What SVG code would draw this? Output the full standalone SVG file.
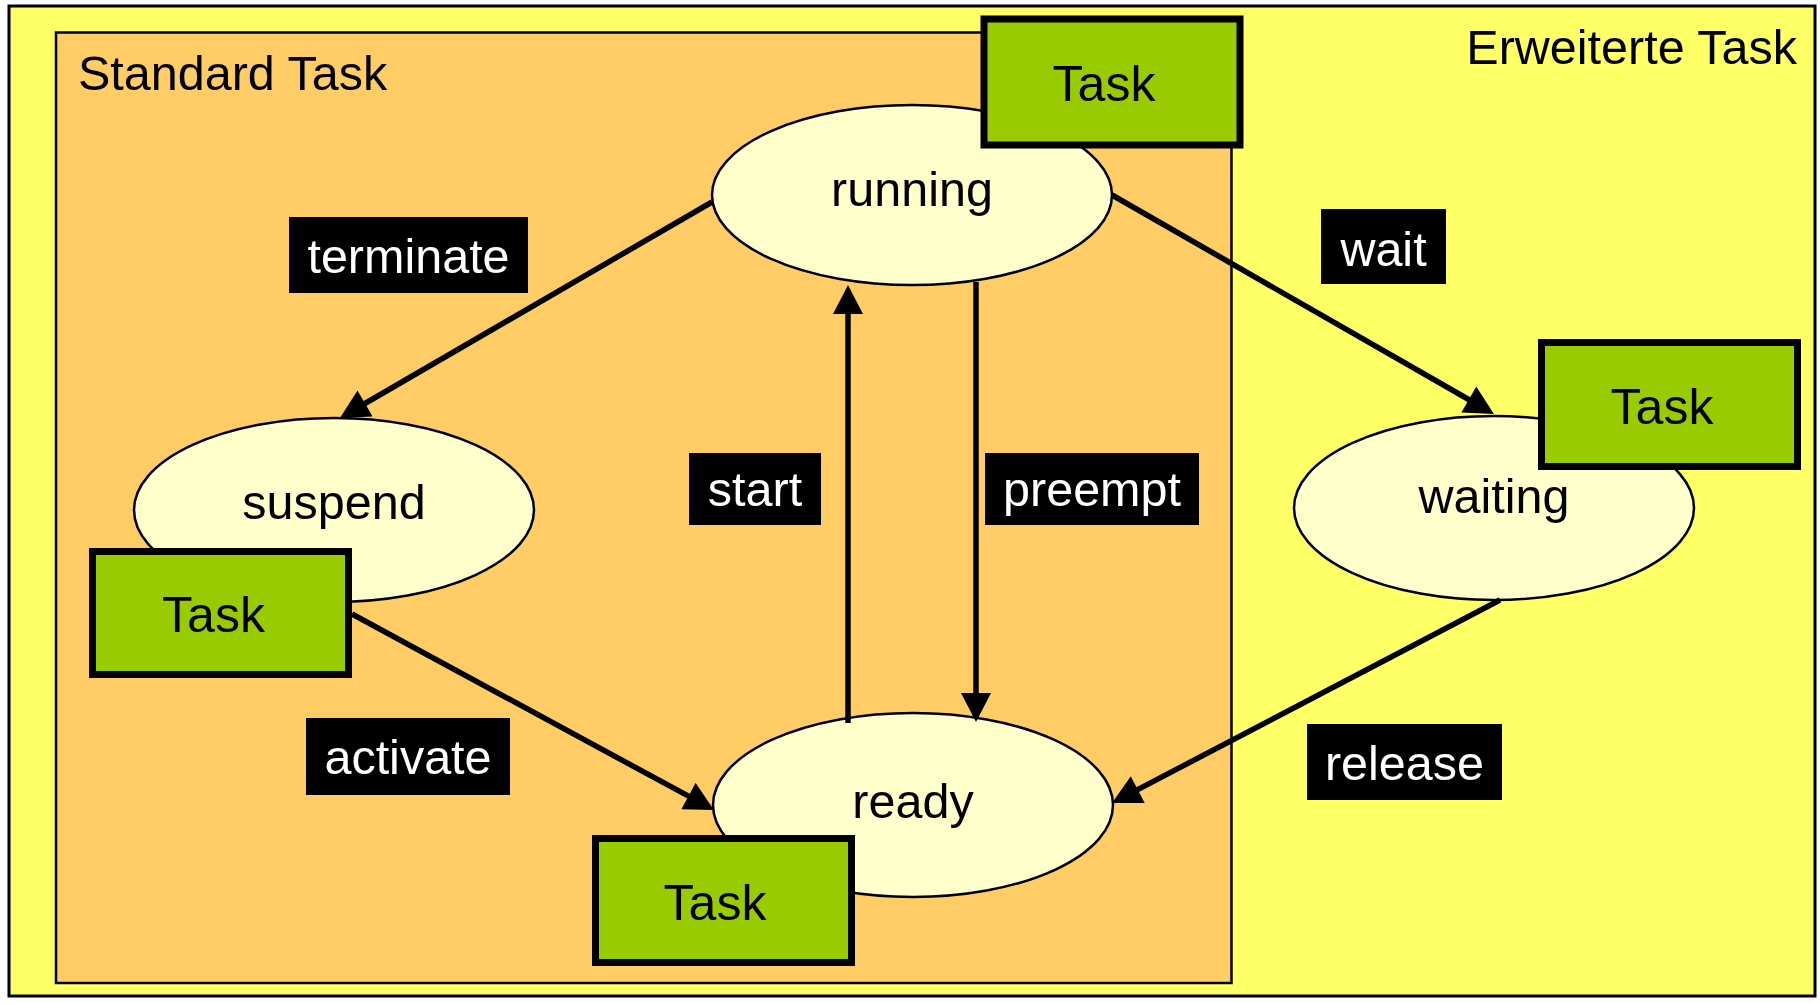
<svg xmlns="http://www.w3.org/2000/svg" width="1820" height="1003" viewBox="0 0 1820 1003">
<defs>
<style>
text{font-family:"Liberation Sans",Arial,sans-serif;font-size:48.5px;}
.title{fill:#000;}
.state{fill:#FFFFCC;stroke:#000;stroke-width:2.5;}
.st{fill:#000;text-anchor:middle;}
.tk{font-size:50px;}
.task{fill:#99CC00;stroke:#000;stroke-width:7;}
.lbl{fill:#000;}
.lt{fill:#fff;text-anchor:middle;}
.conn{stroke:#000;stroke-width:5.5;fill:none;marker-end:url(#ah);}
</style>
<marker id="ah" markerUnits="userSpaceOnUse" markerWidth="30" markerHeight="30" viewBox="0 0 29 30" refX="19" refY="15" orient="auto">
<path d="M0,0 L29,15 L0,30 z" fill="#000"/>
</marker>
</defs>
<g id="erweiterte">
<rect x="9" y="6" width="1806" height="990" fill="#FFFF66" stroke="#000" stroke-width="3"/>
<text class="title" x="1797" y="64" text-anchor="end">Erweiterte Task</text>
</g>
<g id="standard">
<rect x="56" y="32.5" width="1175.5" height="950.5" fill="#FFCC66" stroke="#000" stroke-width="2.5"/>
<text class="title" x="78" y="90">Standard Task</text>
</g>
<g id="running">
<ellipse class="state" cx="912" cy="195" rx="200" ry="90"/>
<text class="st" x="912" y="206">running</text>
</g>
<g id="suspend">
<ellipse class="state" cx="334" cy="510" rx="200" ry="92"/>
<text class="st" x="334" y="519">suspend</text>
</g>
<g id="waiting">
<ellipse class="state" cx="1494" cy="508" rx="200" ry="92"/>
<text class="st" x="1494" y="513">waiting</text>
</g>
<g id="ready">
<ellipse class="state" cx="913" cy="805" rx="200" ry="92"/>
<text class="st" x="913" y="818">ready</text>
</g>
<g id="connectors">
<line class="conn" x1="712" y1="202" x2="348.6" y2="413"/>
<line class="conn" x1="1112" y1="195" x2="1485.3" y2="409"/>
<line class="conn" x1="848" y1="723" x2="848" y2="295"/>
<line class="conn" x1="976" y1="282" x2="976" y2="712"/>
<line class="conn" x1="352" y1="614" x2="705.2" y2="805.2"/>
<line class="conn" x1="1500" y1="600" x2="1120.9" y2="798.4"/>
</g>
<g id="task-running">
<rect class="task" x="984" y="19" width="256" height="126"/>
<text class="st tk" x="1104" y="101">Task</text>
</g>
<g id="task-waiting">
<rect class="task" x="1541.5" y="342.5" width="256" height="124"/>
<text class="st tk" x="1662" y="424">Task</text>
</g>
<g id="task-suspend">
<rect class="task" x="92.5" y="551.5" width="256" height="123"/>
<text class="st tk" x="213.5" y="632">Task</text>
</g>
<g id="task-ready">
<rect class="task" x="595.5" y="838.5" width="256" height="124"/>
<text class="st tk" x="715" y="920">Task</text>
</g>
<g id="label-terminate">
<rect class="lbl" x="289" y="217" width="239" height="76"/>
<text class="lt" x="408.5" y="273">terminate</text>
</g>
<g id="label-wait">
<rect class="lbl" x="1321" y="209" width="125" height="75"/>
<text class="lt" x="1383.5" y="266">wait</text>
</g>
<g id="label-start">
<rect class="lbl" x="689" y="453" width="132" height="72"/>
<text class="lt" x="755" y="506">start</text>
</g>
<g id="label-preempt">
<rect class="lbl" x="985" y="453" width="214" height="72"/>
<text class="lt" x="1092" y="506">preempt</text>
</g>
<g id="label-activate">
<rect class="lbl" x="306" y="718" width="204" height="77"/>
<text class="lt" x="408" y="774">activate</text>
</g>
<g id="label-release">
<rect class="lbl" x="1307" y="724" width="195" height="76"/>
<text class="lt" x="1404.5" y="780">release</text>
</g>
</svg>
